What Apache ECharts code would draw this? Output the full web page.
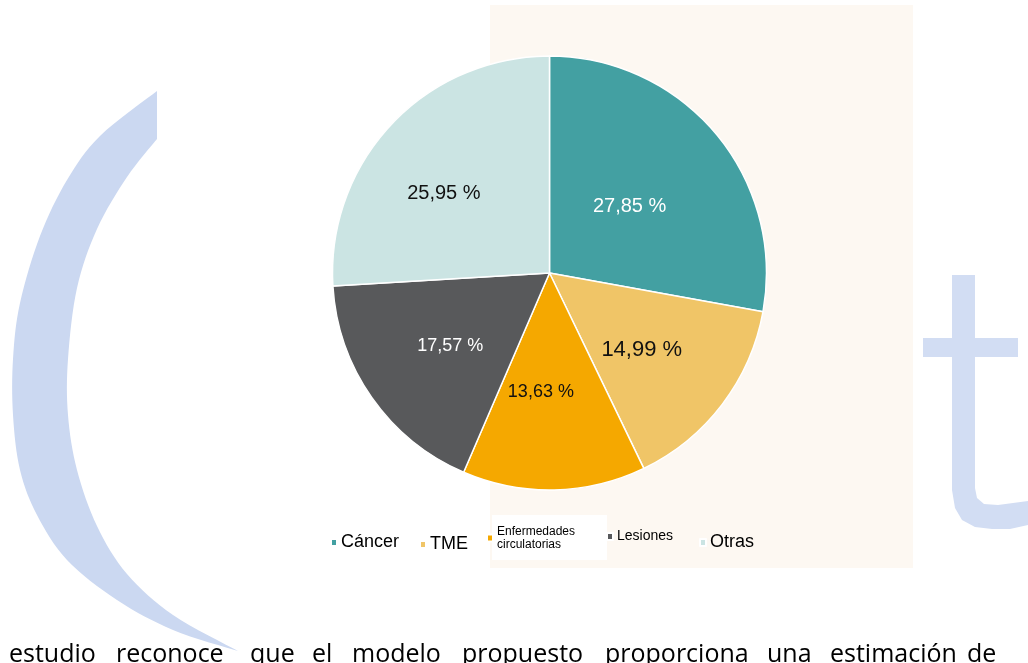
<!DOCTYPE html>
<html>
<head>
<meta charset="utf-8">
<script src="https://cdn.jsdelivr.net/npm/echarts@6/dist/echarts.min.js"></script>
<style>
  html, body { margin: 0; padding: 0; background: #fff; }
  #chart { width: 1028px; height: 663px; }
</style>
</head>
<body>
<div id="chart"></div>
<script>
// causas (porcentaje)
const categories = ['Cáncer', 'TME', 'Enfermedades circulatorias', 'Lesiones', 'Otras'];
const values = [27.85, 14.99, 13.63, 17.57, 25.95];
const colors = ['#43a0a2', '#f0c567', '#f5a800', '#58595b', '#cbe4e3'];

// texto del documento bajo la figura
const bodyWords = ['estudio', 'reconoce', 'que', 'el', 'modelo', 'propuesto', 'proporciona', 'una', 'estimación', 'de'];

// estilos de etiquetas por sector
const labelColor = ['#ffffff', '#111111', '#111111', '#ffffff', '#111111'];
const labelSize = [20, 22, 18, 18, 20];
const labelShift = [[-5.5, 5], [3.5, 9], [-11, 8], [-8, 9], [-24.5, -3]];

// leyenda: cada entrada en su sitio
const legendLeft = [330, 419, 486, 606, 699];
const legendTop = [533, 535, 525, 529, 533];
const legendFont = [18, 18, 12, 14, 18];

const wordX = [9, 116, 250, 312, 352, 462, 605, 767, 830, 967];

// muestrea una curva catmull-rom en puntos
function sampleCurve(pts, steps) {
  const out = [pts[0]];
  for (let i = 0; i < pts.length - 1; i++) {
    const p0 = pts[Math.max(i - 1, 0)], p1 = pts[i], p2 = pts[i + 1], p3 = pts[Math.min(i + 2, pts.length - 1)];
    for (let s = 1; s <= steps; s++) {
      const t = s / steps, t2 = t * t, t3 = t2 * t;
      const f = k => 0.5 * ((2 * p1[k]) + (-p0[k] + p2[k]) * t + (2 * p0[k] - 5 * p1[k] + 4 * p2[k] - p3[k]) * t2 + (-p0[k] + 3 * p1[k] - 3 * p2[k] + p3[k]) * t3);
      out.push([f(0), f(1)]);
    }
  }
  return out;
}
const outer = [[157,91],[100,136],[67,180],[40,236],[20,303],[13,359],[13,415],[20,470],[37,515],[67,560],[117,600],[173,630],[238,651]];
const inner = [[238,651],[173,615],[127,574],[97,526],[77,470],[68,415],[68,359],[77,288],[97,229],[127,177],[157,139]];
const arcPoints = sampleCurve(outer, 8).concat(sampleCurve(inner, 8).slice(1));
const tPoints = [[952,275],[975,275],[975,488],[977,498],[984,504],[998,505],[1028,501],[1028,525],[1010,529],[992,529],[975,527],[962,520],[955,508],[952,490]];

const chart = echarts.init(document.getElementById('chart'));

const graphics = [
  { type: 'rect', z: -10, shape: { x: 490, y: 5, width: 423, height: 563 }, style: { fill: '#fdf8f2' } },
  { type: 'rect', z: -9, shape: { x: 492, y: 515, width: 115, height: 45 }, style: { fill: '#ffffff' } },
  { type: 'polygon', z: -8, shape: { points: arcPoints }, style: { fill: '#cbd8f1' } },
  { type: 'polygon', z: -8, shape: { points: tPoints }, style: { fill: '#d2ddf3' } },
  { type: 'rect', z: -8, shape: { x: 923, y: 338, width: 95, height: 19 }, style: { fill: '#d2ddf3' } }
];
bodyWords.forEach((w, i) => {
  graphics.push({
    type: 'text', z: 10, x: wordX[i], y: 667,
    style: { text: w, fill: '#000', font: '25px "Open Sans"', textAlign: 'left', textVerticalAlign: 'bottom' }
  });
});

const legends = categories.map((name, i) => ({
  data: [name],
  left: legendLeft[i],
  top: legendTop[i],
  orient: 'horizontal',
  icon: 'rect',
  itemWidth: 6,
  itemHeight: 7,
  itemGap: 0,
  selectedMode: false,
  padding: 0,
  formatter: n => n.replace(' ', '\n'),
  textStyle: {
    fontFamily: 'Liberation Sans',
    fontSize: legendFont[i],
    lineHeight: legendFont[i] + 1,
    color: '#000',
    padding: [0, 0, 0, -1]
  }
}));

chart.setOption({
  backgroundColor: '#ffffff',
  animation: false,
  graphic: graphics,
  legend: legends,
  series: [{
    type: 'pie',
    center: [549.5, 273],
    radius: 217,
    startAngle: 90,
    clockwise: true,
    itemStyle: { borderColor: '#ffffff', borderWidth: 1.5 },
    label: {
      show: true,
      position: 'inside',
      fontFamily: 'Liberation Sans',
      formatter: p => p.value.toFixed(2).replace('.', ',') + ' %'
    },
    labelLine: { show: false },
    labelLayout: p => ({ dx: labelShift[p.dataIndex][0], dy: labelShift[p.dataIndex][1] }),
    emphasis: { disabled: true },
    data: categories.map((name, i) => ({
      name: name,
      value: values[i],
      itemStyle: { color: colors[i] },
      label: { color: labelColor[i], fontSize: labelSize[i] }
    }))
  }]
});
</script>
</body>
</html>
